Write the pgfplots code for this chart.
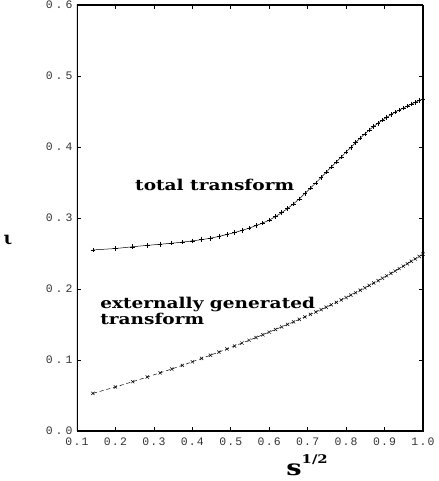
\documentclass[border=0pt]{standalone}
\usepackage{pgfplots}
\pgfplotsset{compat=1.18}
\usepackage{fontspec}
\setmainfont{DejaVu Serif}
\newfontfamily\labelfont[FakeStretch=1.24]{DejaVu Serif}
\newfontfamily\tickfont{Liberation Mono}
\newcommand{\yt}[2]{#1\hspace{3bp}.\hspace{3bp}#2}
\newcommand{\xt}[2]{#1\hspace{1.2bp}.\hspace{1.2bp}#2}
\pgfplotstableread{
x y
0.14142 0.255
0.20000 0.257
0.24495 0.2595
0.28284 0.2615
0.31623 0.263
0.34641 0.2645
0.37417 0.266
0.40000 0.2678
0.42426 0.2695
0.44721 0.2715
0.46904 0.274
0.48990 0.2768
0.50990 0.2795
0.52915 0.2825
0.54772 0.2858
0.56569 0.2893
0.58310 0.293
0.60000 0.297
0.61644 0.302
0.63246 0.3075
0.64807 0.3135
0.66332 0.320
0.67823 0.327
0.69282 0.3345
0.70711 0.342
0.72111 0.3495
0.73485 0.357
0.74833 0.3645
0.76158 0.372
0.77460 0.379
0.78740 0.386
0.80000 0.393
0.81240 0.3995
0.82462 0.406
0.83666 0.4125
0.84853 0.4185
0.86023 0.424
0.87178 0.429
0.88318 0.4335
0.89443 0.4378
0.90554 0.4418
0.91652 0.4455
0.92736 0.449
0.93808 0.452
0.94868 0.455
0.95917 0.4578
0.96954 0.4605
0.97980 0.463
0.98995 0.4655
1.00000 0.4675
}\total
\pgfplotstableread{
x y
0.14142 0.053
0.20000 0.062
0.24495 0.0695
0.28284 0.076
0.31623 0.082
0.34641 0.0873
0.37417 0.0925
0.40000 0.0975
0.42426 0.1022
0.44721 0.1068
0.46904 0.1112
0.48990 0.1155
0.50990 0.1197
0.52915 0.1238
0.54772 0.1278
0.56569 0.1317
0.58310 0.1355
0.60000 0.1393
0.61644 0.1430
0.63246 0.1466
0.64807 0.1502
0.66332 0.1537
0.67823 0.1572
0.69282 0.1607
0.70711 0.1642
0.72111 0.1676
0.73485 0.1710
0.74833 0.1744
0.76158 0.1778
0.77460 0.1812
0.78740 0.1846
0.80000 0.1880
0.81240 0.1914
0.82462 0.1948
0.83666 0.1982
0.84853 0.2016
0.86023 0.2050
0.87178 0.2084
0.88318 0.2118
0.89443 0.2152
0.90554 0.2186
0.91652 0.2220
0.92736 0.2254
0.93808 0.2288
0.94868 0.2322
0.95917 0.2356
0.96954 0.2390
0.97980 0.2424
0.98995 0.2458
1.00000 0.2490
}\ext
\begin{document}
\begin{tikzpicture}
\begin{axis}[
  scale only axis, width=346bp, height=426bp,
  xmin=0.1, xmax=1.0, ymin=0, ymax=0.6,
  xtick={0.1,0.2,0.3,0.4,0.5,0.6,0.7,0.8,0.9,1.0},
  xticklabels={\xt{0}{1},\xt{0}{2},\xt{0}{3},\xt{0}{4},\xt{0}{5},\xt{0}{6},\xt{0}{7},\xt{0}{8},\xt{0}{9},\xt{1}{0}},
  ytick={0,0.1,0.2,0.3,0.4,0.5,0.6},
  yticklabels={\yt{0}{0},\yt{0}{1},\yt{0}{2},\yt{0}{3},\yt{0}{4},\yt{0}{5},\yt{0}{6}},
  tick align=inside, major tick length=4bp,
  tick style={black, line width=0.6pt},
  ticklabel style={font=\tickfont\fontsize{11.5}{12}\selectfont, black!80},
  xticklabel style={yshift=-3bp},
  yticklabel style={xshift=-1bp},
  xlabel={\labelfont\bfseries\fontsize{22}{22}\selectfont s\raisebox{1.1ex}{\fontsize{12}{12}\selectfont 1/2}},
  xlabel style={at={(rel axis cs:0.665,0)}, anchor=north, yshift=-20bp},
  ylabel={\bfseries\fontsize{18}{18}\selectfont ι},
  ylabel style={rotate=-90, at={(rel axis cs:0,0.448)}, anchor=center, xshift=-69bp},
]
\draw[line width=1.3pt] (rel axis cs:0,0) rectangle (rel axis cs:1,1);
\addplot[black, line width=0.5pt, mark=+, mark size=2.3pt] table {\total};
\addplot[black, line width=0.5pt, dash pattern=on 4pt off 3pt, mark=x, mark size=2.3pt, mark options={solid}] table {\ext};
\node[font=\labelfont\bfseries\fontsize{15}{15}\selectfont, anchor=base west, inner sep=0pt] at (axis cs:0.251,0.3394) {total transform};
\node[font=\labelfont\bfseries\fontsize{15}{15}\selectfont, anchor=base west, inner sep=0pt] at (axis cs:0.16,0.1725) {externally generated};
\node[font=\labelfont\bfseries\fontsize{15}{15}\selectfont, anchor=base west, inner sep=0pt] at (axis cs:0.16,0.1493) {transform};
\end{axis}
\pgfresetboundingbox
\useasboundingbox ([shift={(-77bp,-50bp)}]current axis.south west) rectangle ([shift={(16bp,5bp)}]current axis.north east);
\end{tikzpicture}
\end{document}
